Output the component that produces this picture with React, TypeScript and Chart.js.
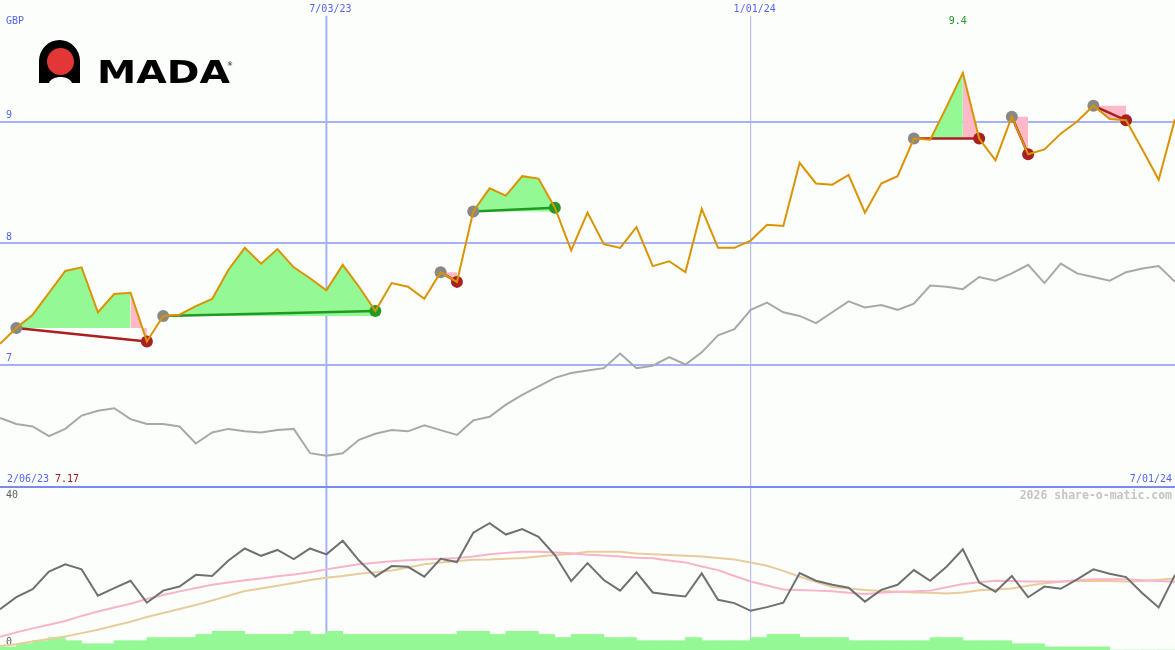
import React, { useEffect, useRef } from 'react';
import { Chart, registerables } from 'chart.js';

Chart.register(...registerables);

// ---------- data ----------
const priceValues = [
  7.17, 7.30, 7.41, 7.59, 7.77, 7.80, 7.43, 7.58, 7.59, 7.19,
  7.40, 7.41, 7.48, 7.54, 7.78, 7.96, 7.83, 7.95, 7.80, 7.71,
  7.61, 7.82, 7.64, 7.44, 7.67, 7.64, 7.54, 7.76, 7.68, 8.26,
  8.45, 8.39, 8.55, 8.53, 8.29, 7.94, 8.25, 7.99, 7.96, 8.13,
  7.81, 7.85, 7.76, 8.28, 7.96, 7.96, 8.02, 8.15, 8.14, 8.66,
  8.49, 8.48, 8.56, 8.25, 8.49, 8.55, 8.86, 8.85, 9.12, 9.40,
  8.86, 8.68, 9.04, 8.73, 8.77, 8.90, 9.00, 9.13, 9.02, 9.01,
  8.77, 8.52, 9.02,
];

const indexValues = [
  6.56, 6.51, 6.49, 6.41, 6.47, 6.58, 6.62, 6.64, 6.55, 6.51,
  6.51, 6.49, 6.35, 6.44, 6.47, 6.45, 6.44, 6.46, 6.47, 6.27,
  6.25, 6.27, 6.38, 6.43, 6.46, 6.45, 6.50, 6.46, 6.42, 6.54,
  6.57, 6.67, 6.75, 6.82, 6.89, 6.93, 6.95, 6.97, 7.09, 6.97,
  6.99, 7.06, 7.00, 7.10, 7.24, 7.29, 7.45, 7.51, 7.43, 7.40,
  7.34, 7.43, 7.52, 7.47, 7.49, 7.45, 7.50, 7.65, 7.64, 7.62,
  7.72, 7.69, 7.75, 7.82, 7.67, 7.83, 7.75, 7.72, 7.69, 7.76,
  7.79, 7.81, 7.68,
];

const oscValues = [
  10.6, 13.9, 16.1, 20.9, 22.9, 21.5, 14.3, 16.4, 18.4, 12.4,
  15.7, 16.8, 20.0, 19.7, 23.9, 27.2, 25.2, 26.8, 24.3, 27.2,
  25.6, 29.3, 23.9, 19.5, 22.4, 22.2, 19.5, 24.4, 23.5, 31.5,
  34.1, 31.0, 32.5, 30.4, 25.4, 18.3, 23.2, 18.6, 15.7, 20.7,
  15.2, 14.6, 14.1, 20.4, 13.2, 12.3, 10.2, 11.2, 12.4, 20.5,
  18.4, 17.3, 16.5, 12.7, 15.9, 17.3, 21.3, 18.4, 22.2, 27.0,
  17.9, 15.4, 19.7, 13.9, 16.8, 16.2, 18.8, 21.5, 20.3, 19.4,
  15.0, 11.1, 20.0,
];

const oscFastAvg = [
  3.1, 4.3, 5.4, 6.4, 7.4, 8.8, 10.0, 11.1, 12.1, 13.4,
  14.5, 15.5, 16.4, 17.3, 17.9, 18.5, 19.0, 19.6, 20.1, 20.7,
  21.5, 22.2, 22.9, 23.3, 23.7, 24.0, 24.2, 24.4, 24.6, 25.0,
  25.6, 26.0, 26.3, 26.3, 26.1, 25.9, 25.5, 25.3, 25.0, 24.7,
  24.5, 23.9, 23.4, 22.3, 21.3, 19.7, 18.2, 17.1, 16.0, 15.9,
  15.7, 15.5, 15.1, 14.8, 15.1, 15.4, 15.5, 15.7, 16.6, 17.5,
  18.0, 18.4, 18.3, 18.2, 18.2, 18.2, 18.5, 18.8, 18.8, 18.8,
  18.5, 18.3, 18.1,
];

const oscSlowAvg = [
  0.6, 1.1, 1.8, 2.5, 3.2, 4.1, 5.0, 6.1, 7.2, 8.5,
  9.6, 10.7, 11.8, 13.0, 14.3, 15.6, 16.3, 17.0, 17.8, 18.6,
  19.2, 19.7, 20.3, 20.7, 21.2, 22.0, 22.9, 23.4, 23.8, 24.1,
  24.2, 24.4, 24.6, 25.0, 25.4, 25.7, 26.3, 26.3, 26.3, 25.8,
  25.6, 25.4, 25.2, 25.0, 24.6, 24.2, 23.4, 22.5, 21.1, 19.5,
  18.1, 16.7, 16.3, 15.9, 15.6, 15.4, 15.2, 15.1, 14.9, 15.2,
  15.8, 16.0, 16.3, 17.0, 17.7, 18.1, 18.3, 18.4, 18.3, 18.2,
  18.3, 18.7, 19.0,
];

const volumeValues = [
  1, 2, 3, 4, 3, 2, 2, 3, 3, 4,
  4, 4, 5, 6, 6, 5, 5, 5, 6, 5,
  6, 5, 5, 5, 5, 5, 5, 5, 6, 6,
  5, 6, 6, 5, 4, 5, 5, 4, 4, 3,
  3, 3, 4, 3, 3, 3, 4, 5, 5, 4,
  4, 4, 3, 3, 3, 3, 3, 4, 4, 3,
  3, 3, 2, 2, 1, 1, 1, 1, 0, 0,
  0, 0, 0,
];

const priceTicks = [7, 8, 9];
const lowerTicks = [0, 40];
const currencyLabel = 'GBP';
const dateMarkIndex = [20, 46];
const dateMarkLabels = ['7/03/23', '1/01/24'];
const startDateLabel = '2/06/23';
const endDateLabel = '7/01/24';
const copyrightLabel = '2026 share-o-matic.com';
const logoWord = 'MADA';

const tradeEntry = [1, 10, 27, 29, 56, 62, 67];
const tradeSplit = [8, 23, 27, 34, 59, 62, 67];
const tradeExit = [9, 23, 28, 34, 60, 63, 69];

// ---------- styles ----------
const BG = '#fcfefc';
const GRID = '#a6b2f4';
const SEP = '#7a8aee';
const BLUE_TEXT = '#5566ee';
const ORANGE = '#d99400';
const GRAY_LINE = '#a8a8a8';
const GREEN_FILL = '#94f894';
const PINK_FILL = '#ffb8c8';
const RED_MARK = '#a82020';
const GREEN_MARK = '#229a22';
const GRAY_MARK = '#888888';
const MONO = '"DejaVu Sans Mono", monospace';

const PRICE_MIN = 6;
const PRICE_MAX = 10;
const VLINE_TOP = 9.87;
const LOW_MIN = -0.5;
const LOW_MAX = 43.7;
const VOL_MAX = 52;
const X_MAX = priceValues.length - 1;

const xy = (vals: number[], from = 0, to = vals.length - 1) =>
  vals.slice(from, to + 1).map((y, k) => ({ x: from + k, y }));

const fmt = (v: number) => String(Number(v.toFixed(2)));

const baseOptions = () => ({
  responsive: false,
  maintainAspectRatio: false,
  animation: false as const,
  events: [] as any[],
  layout: { padding: 0, autoPadding: false },
  plugins: { legend: { display: false }, tooltip: { enabled: false } },
});

const flatFit = (s: any) => {
  s.width = 0;
  s.paddingTop = 0;
  s.paddingBottom = 0;
  s.paddingLeft = 0;
  s.paddingRight = 0;
};

const xScale = () => ({ type: 'linear', min: 0, max: X_MAX, display: false, offset: false, grid: { offset: false } });

export default function App() {
  const topRef = useRef<HTMLCanvasElement>(null);
  const botRef = useRef<HTMLCanvasElement>(null);

  useEffect(() => {
    document.body.style.margin = '0';
    document.body.style.background = BG;

    const maxVal = Math.max(...priceValues);
    const minVal = Math.min(...priceValues);
    const maxIdx = priceValues.indexOf(maxVal);

    // ---- top datasets ----
    const topSets: any[] = [];
    topSets.push({
      type: 'line', data: xy(priceValues), borderColor: ORANGE, borderWidth: 2,
      pointRadius: 0, pointHoverRadius: 0, order: 0,
    });
    const markers: any[] = [];
    const markerColors: string[] = [];
    tradeEntry.forEach((e, t) => {
      const x = tradeExit[t];
      const win = priceValues[x] > priceValues[e];
      markers.push({ x: e, y: priceValues[e] });
      markerColors.push(GRAY_MARK);
      markers.push({ x, y: priceValues[x] });
      markerColors.push(win ? GREEN_MARK : RED_MARK);
      topSets.push({
        type: 'line', data: [{ x: e, y: priceValues[e] }, { x, y: priceValues[x] }],
        borderColor: win ? GREEN_MARK : RED_MARK, borderWidth: 2.5,
        pointRadius: 0, pointHoverRadius: 0, order: 2,
      });
      const s = tradeSplit[t];
      if (s > e) {
        topSets.push({
          type: 'line', data: xy(priceValues, e, s), fill: { value: priceValues[e] },
          backgroundColor: GREEN_FILL, borderColor: 'transparent', borderWidth: 0,
          pointRadius: 0, pointHoverRadius: 0, order: 3,
        });
      }
      if (x > s) {
        topSets.push({
          type: 'line', data: xy(priceValues, s, x), fill: { value: priceValues[e] },
          backgroundColor: PINK_FILL, borderColor: 'transparent', borderWidth: 0,
          pointRadius: 0, pointHoverRadius: 0, order: 3,
        });
      }
    });
    topSets.push({
      type: 'line', data: markers, showLine: false, pointRadius: 6, pointHoverRadius: 6,
      pointBackgroundColor: markerColors, pointBorderWidth: 0, pointBorderColor: 'transparent', order: 1,
    });
    topSets.push({
      type: 'line', data: xy(indexValues), borderColor: GRAY_LINE, borderWidth: 2,
      pointRadius: 0, pointHoverRadius: 0, order: 4,
    });
    dateMarkIndex.forEach((idx, k) => {
      topSets.push({
        type: 'line', data: [{ x: idx, y: PRICE_MIN }, { x: idx, y: VLINE_TOP }],
        borderColor: k === 0 ? GRID : '#aab2e6', borderWidth: k === 0 ? 2 : 1,
        pointRadius: 0, pointHoverRadius: 0, order: 6,
      });
    });

    const topText = {
      id: 'topText',
      afterDraw(chart: any) {
        const { ctx } = chart;
        const xs = chart.scales.x;
        ctx.save();
        ctx.font = `10px ${MONO}`;
        ctx.textBaseline = 'middle';
        ctx.fillStyle = BLUE_TEXT;
        ctx.textAlign = 'left';
        ctx.fillText(currencyLabel, 6, 21);
        ctx.textAlign = 'center';
        dateMarkIndex.forEach((idx, k) => {
          ctx.fillText(dateMarkLabels[k], xs.getPixelForValue(idx) + 4, 9);
        });
        ctx.fillStyle = '#229922';
        ctx.fillText(fmt(maxVal), xs.getPixelForValue(maxIdx) - 5, 21);
        ctx.textAlign = 'left';
        ctx.fillStyle = BLUE_TEXT;
        ctx.fillText(startDateLabel, 7, 479);
        ctx.fillStyle = '#a01818';
        ctx.fillText(fmt(minVal), 55, 479);
        ctx.textAlign = 'right';
        ctx.fillStyle = BLUE_TEXT;
        ctx.fillText(endDateLabel, 1172, 479);
        ctx.restore();
      },
    };

    const top = new Chart(topRef.current as HTMLCanvasElement, {
      type: 'line',
      data: { datasets: topSets },
      options: {
        ...baseOptions(),
        scales: {
          x: xScale(),
          y: {
            type: 'linear', position: 'left', min: PRICE_MIN, max: PRICE_MAX,
            afterBuildTicks: (s: any) => { s.ticks = priceTicks.map((v) => ({ value: v })); },
            afterFit: flatFit,
            grid: { color: GRID, lineWidth: 2, drawTicks: false },
            border: { display: false },
            ticks: { mirror: true, padding: 6, labelOffset: -6, color: BLUE_TEXT, font: { family: MONO, size: 10 } },
          },
        },
      } as any,
      plugins: [topText],
    });

    // ---- bottom datasets ----
    const botSets: any[] = [
      { type: 'line', data: xy(oscValues), borderColor: '#707070', borderWidth: 2, pointRadius: 0, pointHoverRadius: 0, order: 1 },
      { type: 'line', data: xy(oscFastAvg), borderColor: '#f8b4c8', borderWidth: 2, pointRadius: 0, pointHoverRadius: 0, order: 2 },
      { type: 'line', data: xy(oscSlowAvg), borderColor: '#e8cc9c', borderWidth: 2, pointRadius: 0, pointHoverRadius: 0, order: 3 },
      {
        type: 'bar', yAxisID: 'yv', data: volumeValues.map((v, i) => ({ x: i + 0.5, y: v })),
        backgroundColor: GREEN_FILL, borderWidth: 0, barPercentage: 1, categoryPercentage: 1, order: 4,
      },
    ];
    dateMarkIndex.forEach((idx, k) => {
      botSets.push({
        type: 'line', data: [{ x: idx, y: LOW_MIN }, { x: idx, y: LOW_MAX }],
        borderColor: GRID, borderWidth: k === 0 ? 2 : 1, pointRadius: 0, pointHoverRadius: 0, order: 5,
      });
    });

    const botText = {
      id: 'botText',
      afterDraw(chart: any) {
        const { ctx } = chart;
        ctx.save();
        ctx.font = `bold 11.5px ${MONO}`;
        ctx.textBaseline = 'middle';
        ctx.textAlign = 'right';
        ctx.fillStyle = '#c4c4c4';
        ctx.fillText(copyrightLabel, 1172, 8);
        ctx.restore();
      },
    };

    const bot = new Chart(botRef.current as HTMLCanvasElement, {
      type: 'line',
      data: { datasets: botSets },
      options: {
        ...baseOptions(),
        scales: {
          x: xScale(),
          y: {
            type: 'linear', position: 'left', min: LOW_MIN, max: LOW_MAX,
            afterBuildTicks: (s: any) => { s.ticks = lowerTicks.map((v) => ({ value: v })); },
            afterFit: flatFit,
            grid: { display: false, drawTicks: false },
            border: { display: false },
            ticks: { mirror: true, padding: 6, labelOffset: -6, color: '#606060', font: { family: MONO, size: 10 } },
          },
          yv: { type: 'linear', position: 'right', min: 0, max: VOL_MAX, display: false },
        },
      } as any,
      plugins: [botText],
    });

    return () => { top.destroy(); bot.destroy(); };
  }, []);

  return (
    <div style={{ position: 'absolute', left: 0, top: 0, width: 1175, height: 650, background: BG, overflow: 'hidden' }}>
      <canvas ref={topRef} width={1175} height={486}
        style={{ position: 'absolute', left: 0, top: 0, width: 1175, height: 486, display: 'block' }} />
      <div style={{ position: 'absolute', left: 0, top: 486, width: 1175, height: 2, background: SEP }} />
      <canvas ref={botRef} width={1175} height={162}
        style={{ position: 'absolute', left: 0, top: 488, width: 1175, height: 162, display: 'block' }} />
      <svg style={{ position: 'absolute', left: 0, top: 0 }} width={240} height={100}>
        <path d="M39,83 L39,61 A20.5,21 0 0 1 80,61 L80,83 L72,83 C69,75 52,75 49,83 Z" fill="#000" />
        <circle cx={60.5} cy={61.5} r={13.5} fill="#e33636" />
        <text x={97} y={83} fontFamily="DejaVu Sans, sans-serif" fontWeight="bold" fontSize={31.5}
          textLength={133} lengthAdjust="spacingAndGlyphs" fill="#000">{logoWord}</text>
        <text x={227} y={66} fontFamily="DejaVu Sans, sans-serif" fontSize={6} fill="#000">®</text>
      </svg>
    </div>
  );
}
